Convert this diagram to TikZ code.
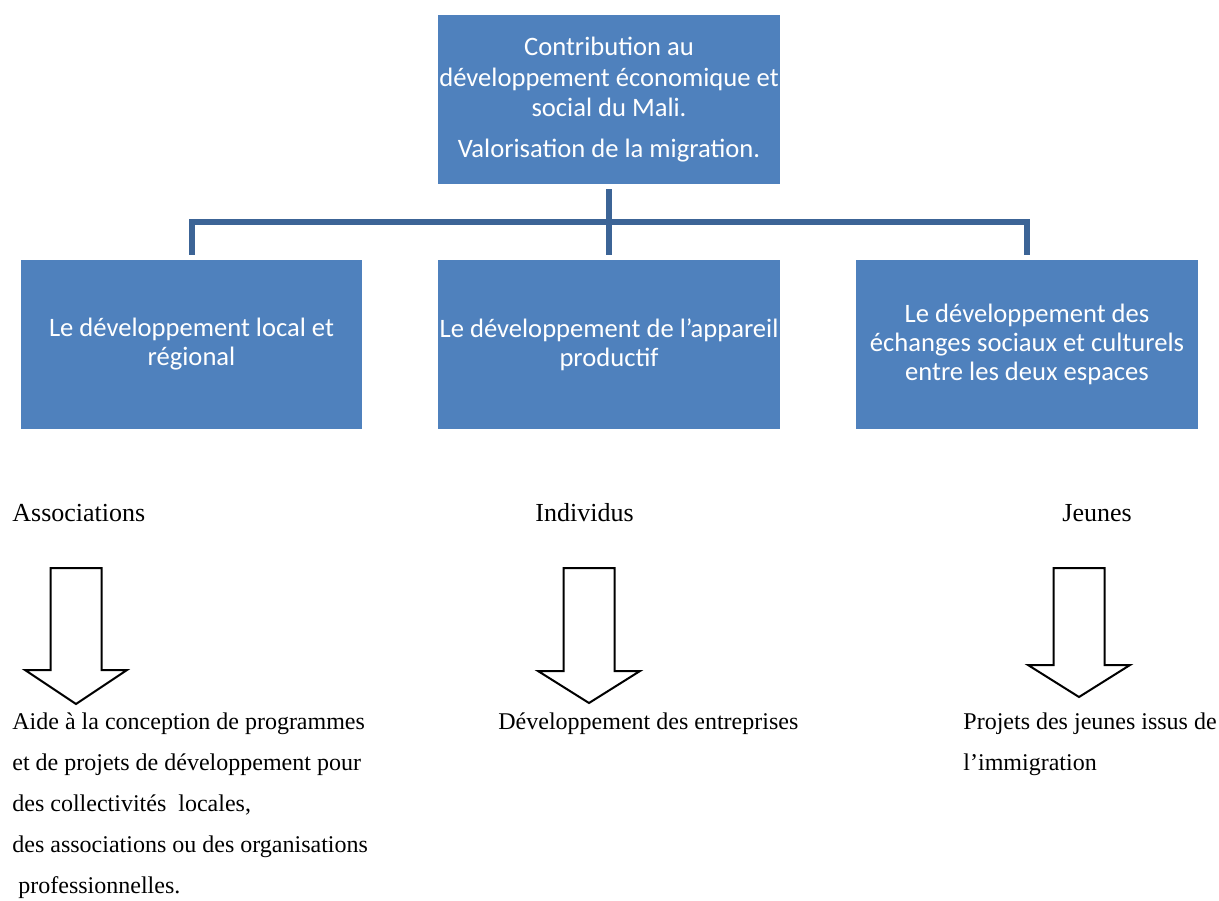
\documentclass[tikz,border=0pt]{standalone}
\usepackage{fontspec}
\setmainfont{Liberation Serif}
\newfontfamily\calibrifont{Carlito}
\definecolor{boxblue}{RGB}{79,129,189}
\definecolor{linkblue}{RGB}{60,100,150}

\begin{document}
\begin{tikzpicture}[x=0.5pt,y=-0.5pt,
  blockbox/.style={fill=boxblue, text=white, inner sep=0pt, minimum width=171pt,
    minimum height=84.5pt, align=center, font=\calibrifont\fontsize{13.3}{14.5}\selectfont},
  link/.style={draw=linkblue, line width=3pt, shorten <=2.5pt, shorten >=2.5pt},
  hollowarrow/.style={draw=black, line width=1pt, fill=white, line join=miter},
  grouplabel/.style={inner sep=0pt, anchor=base west, font=\fontsize{13}{15}\selectfont},
  desctext/.style={inner sep=0pt, anchor=north west, align=left, font=\fontsize{12}{20.6}\selectfont}]
 \useasboundingbox (0,0) rectangle (1219,900);

 % boxes
 \node[blockbox, font=\calibrifont\fontsize{13.3}{15.2}\selectfont] (top) at (609,99.5)
  {Contribution au\\développement économique et\\social du Mali.\\[5pt]Valorisation de la migration.};
 \node[blockbox, minimum width=170.5pt] (local) at (191.5,344.5) {Le développement local et\\régional};
 \node[blockbox] (prod) at (609,344.5) {Le développement de l’appareil\\productif};
 \node[blockbox] (echange) at (1027,344.5) {Le développement des\\échanges sociaux et culturels\\entre les deux espaces};

 % connectors
 \coordinate (bus) at (609,222);
 \draw[link] (top) -- (prod);
 \draw[link] (local) |- (bus) -| (echange);

 % labels
 \node[grouplabel] (assoc) at (12,521) {Associations};
 \node[grouplabel] (indiv) at (535,521) {Individus};
 \node[grouplabel] (jeunes) at (1062,521) {Jeunes};

 % block arrows
 \foreach \x/\h/\t in {76/670/704, 589/671/703, 1079/665/697}
  \draw[hollowarrow] ({\x-25.5},568) -- ({\x+25.5},568) -- ({\x+25.5},\h) -- ({\x+51},\h)
    -- (\x,\t) -- ({\x-51},\h) -- ({\x-25.5},\h) -- cycle;

 % descriptions
 \node[desctext] (aide) at (12,712) {Aide à la conception de programmes\\et de projets de développement pour\\des collectivités\ \ locales,\\des associations ou des organisations\\\ professionnelles.};
 \node[desctext] (entreprises) at (498,712) {Développement des entreprises};
 \node[desctext] (projets) at (963,712) {Projets des jeunes issus de\\l’immigration};
\end{tikzpicture}
\end{document}
